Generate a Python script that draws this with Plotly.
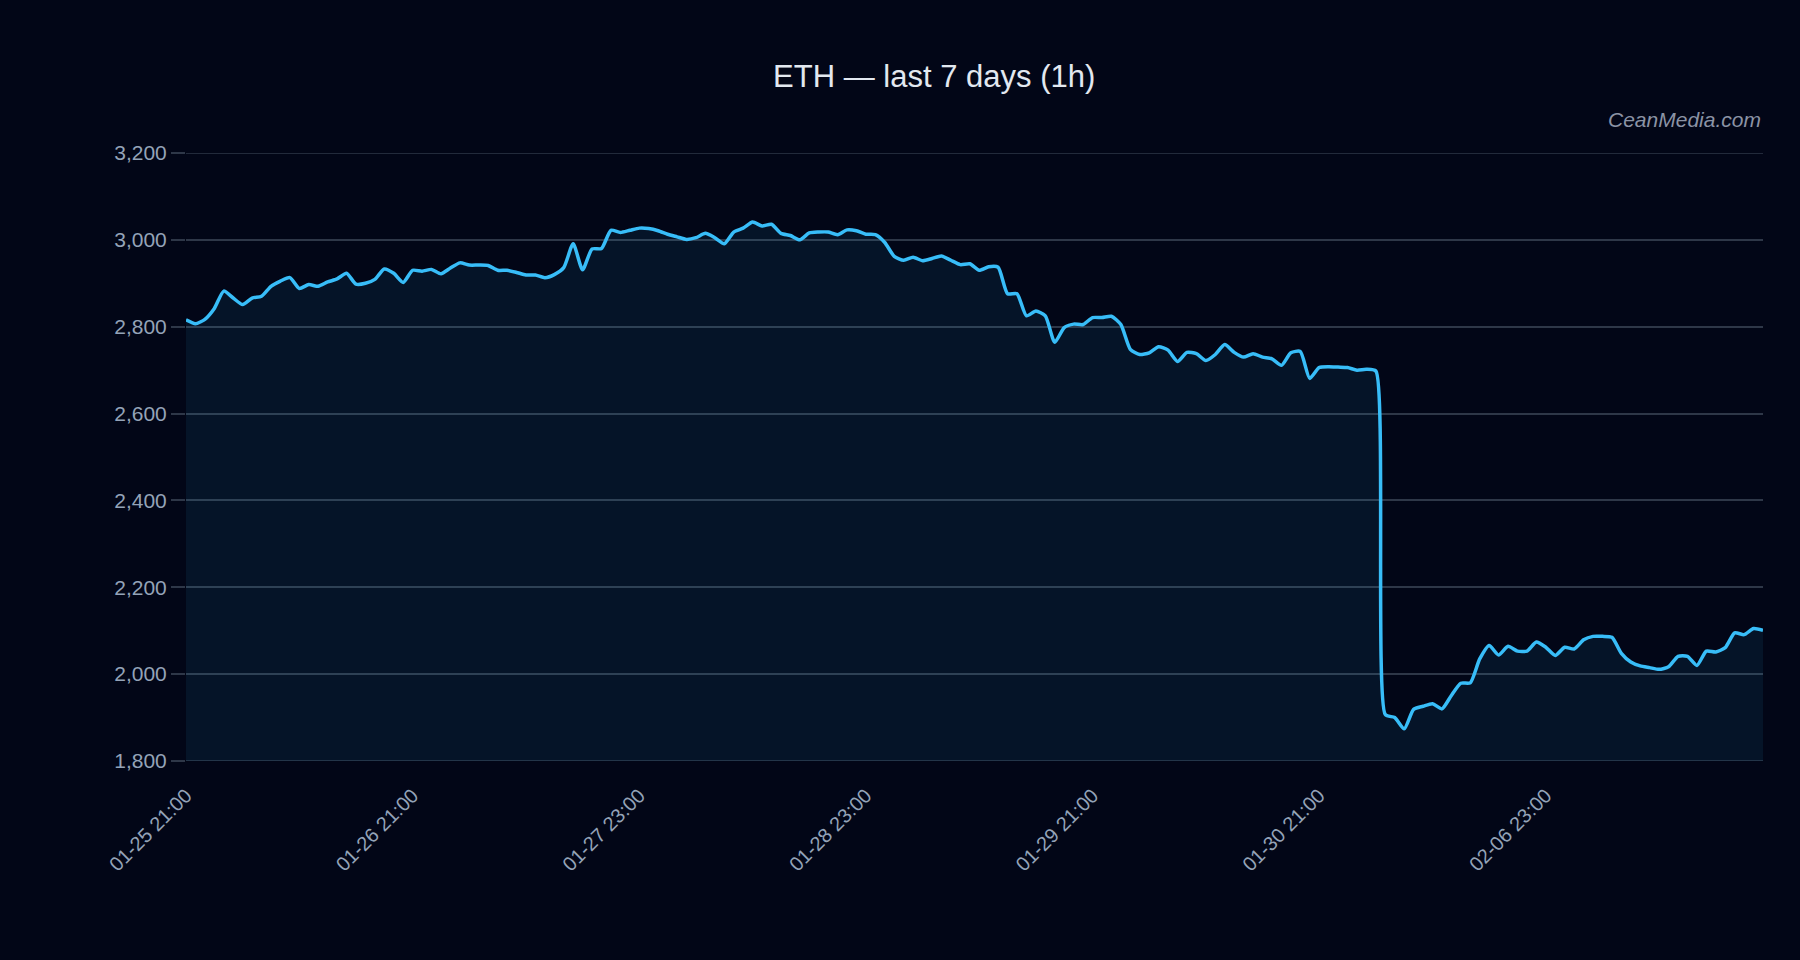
import plotly.graph_objects as go

# hourly closes (168 points)
prices = [
    2816, 2807, 2817, 2842, 2882, 2866, 2851, 2866, 2870, 2893, 2905, 2913,
    2888, 2897, 2893, 2903, 2910, 2923, 2898, 2900, 2909, 2933, 2923, 2902,
    2930, 2928, 2932, 2922, 2935, 2947, 2942, 2942, 2941, 2930, 2930, 2925,
    2919, 2919, 2913, 2920, 2936, 2991, 2931, 2979, 2980, 3022, 3017, 3022,
    3027, 3026, 3021, 3013, 3007, 3001, 3005, 3015, 3005, 2991, 3018, 3027,
    3041, 3032, 3036, 3015, 3010, 3000, 3016, 3018, 3018, 3012, 3023, 3021,
    3013, 3012, 2994, 2962, 2953, 2960, 2952, 2957, 2963, 2953, 2943, 2945,
    2930, 2938, 2937, 2876, 2876, 2825, 2836, 2825, 2764, 2798, 2806, 2805,
    2821, 2821, 2824, 2805, 2748, 2736, 2740, 2754, 2746, 2720, 2741, 2738,
    2722, 2736, 2759, 2741, 2730, 2738, 2730, 2726, 2711, 2740, 2743, 2681,
    2706, 2708, 2707, 2706, 2700, 2702, 2698, 1907, 1900, 1874, 1919, 1926,
    1932, 1920, 1951, 1979, 1980, 2035, 2066, 2044, 2064, 2053, 2053, 2074,
    2062, 2043, 2062, 2058, 2079, 2087, 2087, 2085, 2048, 2028, 2019, 2015,
    2011, 2017, 2041, 2041, 2020, 2053, 2051, 2061, 2095, 2091, 2105, 2101,
]
hours = list(range(len(prices)))

tick_pos = [0, 24, 48, 72, 96, 120, 144]
tick_labels = ["01-25 21:00", "01-26 21:00", "01-27 23:00", "01-28 23:00",
               "01-29 21:00", "01-30 21:00", "02-06 23:00"]
y_min, y_max = 1800, 3200

bg = "#020617"
grid = "#2e3748"
muted = "#94a3b8"
font_family = "Liberation Sans, Arial, sans-serif"

fig = go.Figure()
fig.add_trace(go.Scatter(
    x=hours,
    y=prices,
    mode="lines",
    line=dict(color="#38bdf8", width=3.5, shape="spline", smoothing=0.6),
    fill="tozeroy",
    fillcolor="rgba(56,189,248,0.08)",
    hoverinfo="x+y",
))

fig.update_layout(
    width=1800,
    height=960,
    paper_bgcolor=bg,
    plot_bgcolor=bg,
    showlegend=False,
    font=dict(family=font_family, color=muted, size=20),
    margin=dict(l=186, r=37, t=153, b=199),
    title=dict(
        text="ETH — last 7 days (1h)",
        x=0.519,
        xanchor="center",
        y=0.921,
        yanchor="middle",
        font=dict(size=31, color="#e2e8f0"),
    ),
)

fig.update_xaxes(
    range=[0, len(prices) - 1],
    tickmode="array",
    tickvals=tick_pos,
    ticktext=tick_labels,
    tickangle=-45,
    showgrid=False,
    zeroline=False,
    showline=False,
    ticks="",
    ticklabelstandoff=18,
    tickfont=dict(size=20, color=muted),
)

fig.update_yaxes(
    range=[y_min, y_max],
    dtick=200,
    tickformat=",",
    showgrid=True,
    gridcolor=grid,
    gridwidth=1.5,
    zeroline=False,
    showline=False,
    ticks="outside",
    ticklen=14,
    tickcolor=grid,
    tickwidth=1.5,
    tickfont=dict(size=21, color=muted),
)

# plotly skips grid lines sitting on the plot edge, draw those two by hand
for edge in (y_min, y_max):
    fig.add_hline(y=edge, line=dict(color=grid, width=1.5), layer="below")

fig.add_annotation(
    text="CeanMedia.com",
    xref="paper", yref="paper",
    x=1, y=1.0553,
    xanchor="right", yanchor="middle",
    showarrow=False,
    font=dict(size=21, color="#8b93a5", family=font_family, style="italic"),
)

fig.write_html("out.html", config={"displayModeBar": False},
               post_script="document.body.style.margin='0';")
